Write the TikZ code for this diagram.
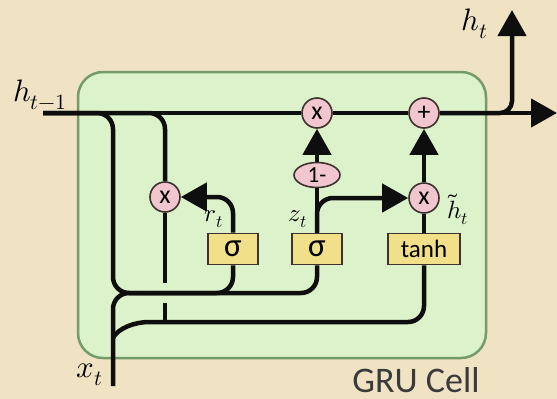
\documentclass[tikz,border=0pt]{standalone}
\usepackage{fontspec}
\usepackage{unicode-math}
\setmathfont{Latin Modern Math}
\usetikzlibrary{arrows.meta,shapes.geometric}
\newfontfamily\cellfont{Carlito}

\definecolor{bgbeige}{HTML}{F0E3C4}
\definecolor{cellgreen}{HTML}{DCF2CB}
\definecolor{cellborder}{HTML}{739C6A}
\definecolor{oppink}{HTML}{F2C6CE}
\definecolor{gateyellow}{HTML}{F1DF8A}
\definecolor{opline}{HTML}{3E322E}
\definecolor{wireblack}{HTML}{0E0E0E}
\definecolor{captiongray}{HTML}{3A3A3A}

\begin{document}
\begin{tikzpicture}[
    x=1pt, y=-1pt,
    wire/.style={line width=4.5pt, draw=wireblack, rounded corners=16pt},
    arrow/.style={wire, -{Triangle[length=26pt,width=28pt]}},
    op/.style={circle, draw=opline, line width=1.6pt, fill=oppink, minimum size=30pt, inner sep=0pt, font=\cellfont\fontsize{26}{26}\selectfont},
    gatebox/.style={rectangle, draw=opline, line width=1.6pt, fill=gateyellow, minimum width=50pt, minimum height=31pt, inner sep=0pt, font=\cellfont\fontsize{33}{33}\selectfont},
    lbl/.style={font=\fontsize{31}{31}\selectfont},
    inlbl/.style={font=\fontsize{25}{25}\selectfont}
]
\useasboundingbox (0,0) rectangle (557,399);
\fill[bgbeige] (0,0) rectangle (557,399);
\draw[cellborder, rounded corners=25pt, line width=2.5pt, fill=cellgreen] (78,72) rectangle (486,358);

% operations and gates
\node[op] (mulz) at (317,113) {x};
\node[op] (addh) at (424,113) {+};
\node[op, ellipse, minimum width=46pt, minimum height=25pt, font=\cellfont\fontsize{23}{23}\selectfont] (onem) at (317,175) {1-};
\node[op] (mulr) at (165,197) {x};
\node[op] (mulh) at (424,198) {x};
\node[gatebox] (sigr) at (233,249) {σ};
\node[gatebox] (sigz) at (317,249) {σ};
\node[gatebox, minimum width=72pt, font=\cellfont\fontsize{25}{25}\selectfont] (tanhb) at (424,249) {tanh};

\coordinate (hin) at (43,113);
\coordinate (hout) at (557,113);
\coordinate (htop) at (512,10);
\coordinate (xin) at (113,386);
\coordinate (join) at (150,293);
\coordinate (xb) at (113,338);
\coordinate (gapup) at (165,283);
\coordinate (gapdown) at (165,303);
\coordinate (lowjoin) at (165,322);

% state line
\draw[wire] (hin) -- (mulz);
\draw[wire] (mulz) -- (addh);
\draw[arrow] (addh) -- (hout);
\draw[arrow, rounded corners=12pt] (addh) -| (htop);

% inputs to the gates
\draw[wire] (hin) -| (113,293) -| (sigz.south);
\draw[wire] (xin) |- (join);
\draw[wire] (join) -| (sigr.south);
\draw[wire] (hin) -| (mulr.north);
\draw[wire] (mulr) -- (gapup);
\draw[wire] (gapdown) -- (lowjoin);
\draw[wire] (xb) .. controls (118,328) and (135,322) .. (lowjoin) -| (tanhb.south);

% gate outputs
\draw[arrow] (sigr.north) |- (mulr.east);
\draw[wire] (sigz) -- (onem);
\draw[arrow] (onem) -- (mulz);
\draw[arrow] (sigz.north) |- (mulh.west);
\draw[wire] (tanhb) -- (mulh);
\draw[arrow] (mulh) -- (addh);

% labels
\node[lbl] (lhin) at (40,95) {$h_{t-1}$};
\node[lbl] (lhout) at (475,24) {$h_t$};
\node[lbl] (lxin) at (90,375) {$x_t$};
\node[inlbl] (lr) at (214,219) {$r_t$};
\node[inlbl] (lz) at (298,219) {$z_t$};
\node[inlbl] (lht) at (458,209) {$\tilde{h}_t$};
\node[font=\cellfont\fontsize{36}{36}\selectfont, text=captiongray, anchor=base, inner sep=0pt] (caption) at (416,392) {GRU Cell};
\end{tikzpicture}
\end{document}
